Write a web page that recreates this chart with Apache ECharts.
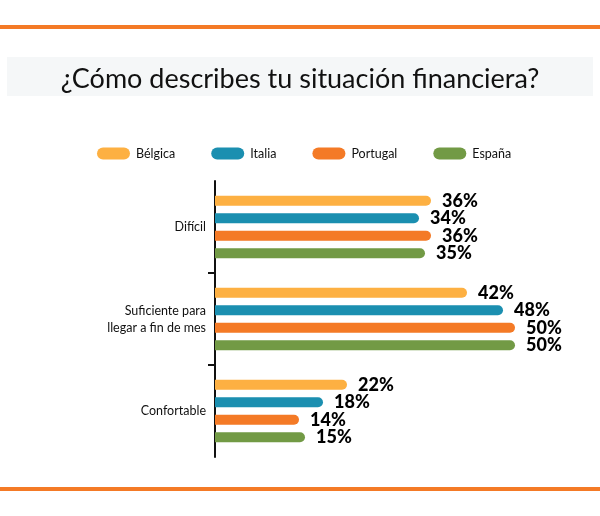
<!DOCTYPE html>
<html>
<head>
<meta charset="utf-8">
<script src="https://cdn.jsdelivr.net/npm/echarts@6/dist/echarts.min.js"></script>
<style>
  html, body { margin: 0; padding: 0; background: #fff; }
  #main { width: 600px; height: 516px; }
</style>
</head>
<body>
<div id="main"></div>
<script>
var categories = ['Difícil', 'Suficiente para\nllegar a fin de mes', 'Confortable']
var belgica = [36, 42, 22]
var italia = [34, 48, 18]
var portugal = [36, 50, 14]
var espana = [35, 50, 15]
var seriesNames = ['Bélgica', 'Italia', 'Portugal', 'España']
var colors = ['#fdb042', '#1b8fb0', '#f47a26', '#729a45']

var myChart = echarts.init(document.getElementById('main'))

var pill = 'path://M6,0 H27 A6,6 0 0 1 27,12 H6 A6,6 0 0 1 6,0 Z'

function makeSeries(name, data, color) {
  return {
    name: name,
    type: 'bar',
    data: data,
    barWidth: 10,
    barGap: '75%',
    itemStyle: { color: color, borderRadius: [0, 5, 5, 0] },
    label: {
      show: true,
      position: 'right',
      distance: 11,
      formatter: '{c}%',
      color: '#000',
      fontFamily: 'Lato',
      fontWeight: 900,
      fontSize: 18
    }
  }
}

let option = {
  animation: false,
  backgroundColor: '#fff',
  color: colors,
  title: {
    text: '¿Cómo describes tu situación financiera?',
    left: 'center',
    top: 61,
    textStyle: {
      fontFamily: 'Lato',
      fontWeight: 'normal',
      fontSize: 27,
      color: '#111'
    }
  },
  graphic: [
    { type: 'rect', z: -1, shape: { x: 0, y: 25, width: 600, height: 4 }, style: { fill: '#f47a26' } },
    { type: 'rect', z: -1, shape: { x: 0, y: 487, width: 600, height: 4 }, style: { fill: '#f47a26' } },
    { type: 'rect', z: -1, shape: { x: 7, y: 57, width: 586, height: 39 }, style: { fill: '#f5f7f8' } }
  ],
  legend: {
    data: seriesNames,
    left: 97,
    top: 147,
    padding: 0,
    itemWidth: 33,
    itemHeight: 13,
    itemGap: 36,
    icon: pill,
    textStyle: { fontFamily: 'Lato', fontSize: 12.5, color: '#111', padding: [0, 0, 0, 1] }
  },
  grid: { left: 215, right: 85, top: 181, bottom: 59 },
  xAxis: { type: 'value', min: 0, max: 50, show: false },
  yAxis: [{
    type: 'category',
    data: categories,
    inverse: true,
    axisLine: { show: true, lineStyle: { color: '#111', width: 2 } },
    axisTick: { show: false },
    axisLabel: {
      margin: 9,
      fontFamily: 'Lato',
      fontSize: 12.5,
      lineHeight: 17,
      color: '#111',
      align: 'right'
    }
  }, {
    type: 'value',
    position: 'left',
    min: 0,
    max: 3,
    interval: 1,
    inverse: true,
    axisLine: { show: false },
    axisLabel: { show: false },
    splitLine: { show: false },
    axisTick: { show: true, length: 7, customValues: [1, 2], lineStyle: { color: '#111', width: 2 } }
  }],
  series: [
    makeSeries(seriesNames[0], belgica, colors[0]),
    makeSeries(seriesNames[1], italia, colors[1]),
    makeSeries(seriesNames[2], portugal, colors[2]),
    makeSeries(seriesNames[3], espana, colors[3])
  ]
}
myChart.setOption(option)
</script>
</body>
</html>
